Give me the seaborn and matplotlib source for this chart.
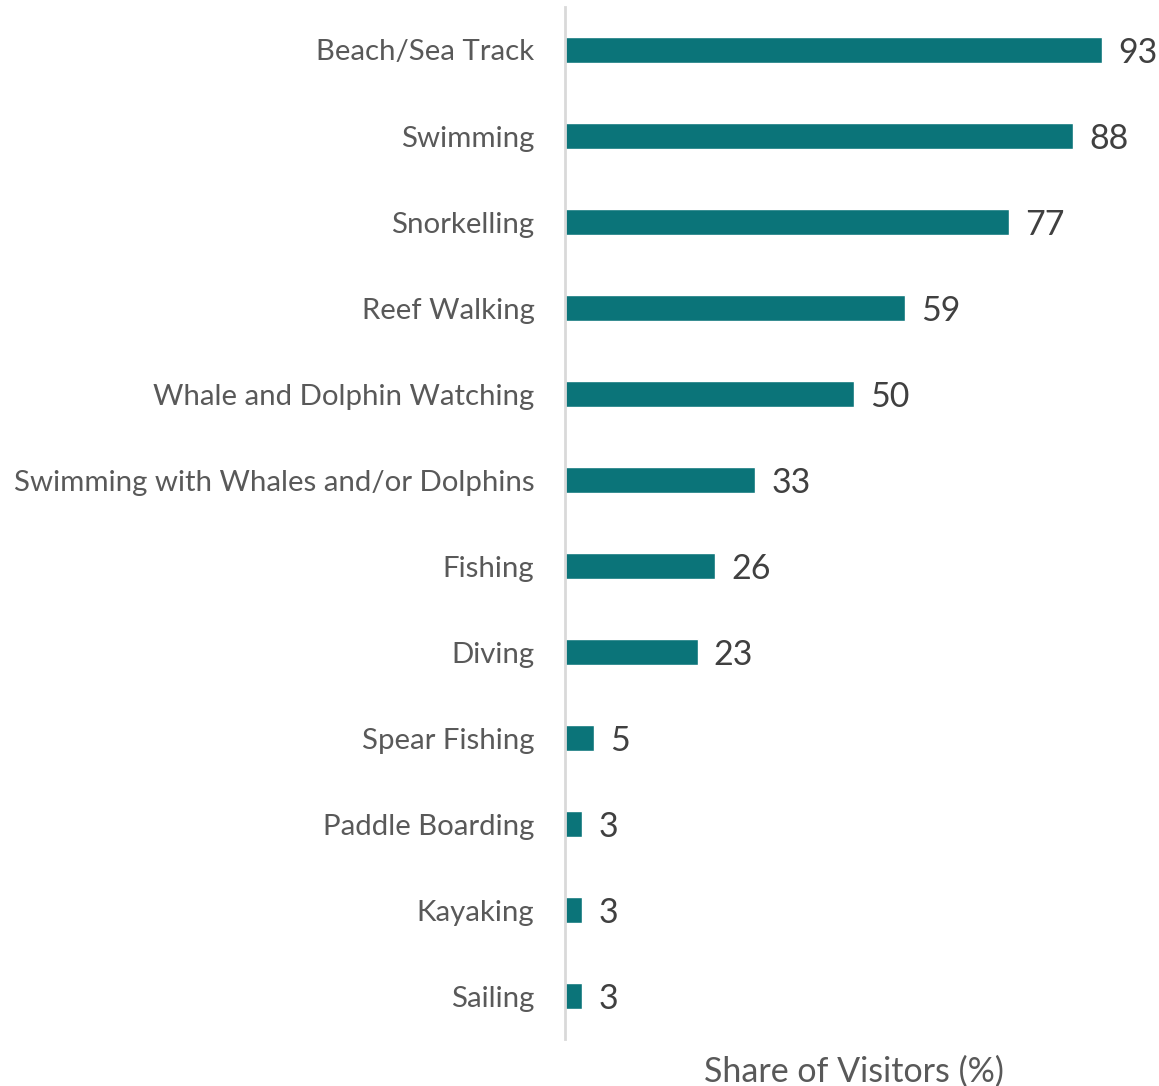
import matplotlib
matplotlib.use("Agg")
import matplotlib.pyplot as plt
import seaborn as sns
import pandas as pd

activities = [
    "Beach/Sea Track", "Swimming", "Snorkelling", "Reef Walking",
    "Whale and Dolphin Watching", "Swimming with Whales and/or Dolphins",
    "Fishing", "Diving", "Spear Fishing", "Paddle Boarding", "Kayaking", "Sailing",
]
share = [93, 88, 77, 59, 50, 33, 26, 23, 5, 3, 3, 3]

df = pd.DataFrame({"activity": activities, "share": share})

sns.set_theme(style="white")
plt.rcParams["font.family"] = ["Lato", "DejaVu Sans"]

fig = plt.figure(figsize=(11.59, 10.86), dpi=100)
ax = fig.add_axes([565 / 1159, 47 / 1086, 577 / 1159, 1032 / 1086])

bar_color = "#0B7479"
sns.barplot(data=df, y="activity", x="share", orient="h", color=bar_color,
            width=0.31, saturation=1, ax=ax)

ax.set_xlim(0, 100)
ax.set_ylim(len(activities) - 0.5, -0.5)

for i, v in enumerate(share):
    ax.text(v + 2.8, i + 0.03, f"{v}", va="center", ha="left",
            fontsize=24.5, color="#404040")

for s in ["top", "right", "bottom"]:
    ax.spines[s].set_visible(False)
ax.spines["left"].set_color("#D9D9D9")
ax.spines["left"].set_linewidth(2)

ax.set_xticks([])
ax.set_ylabel("")
ax.set_xlabel("Share of Visitors (%)", fontsize=24.5, color="#595959", labelpad=12)
ax.tick_params(axis="y", length=0, pad=22, labelsize=21.2, labelcolor="#595959")

fig.savefig("out.png", dpi=100)
